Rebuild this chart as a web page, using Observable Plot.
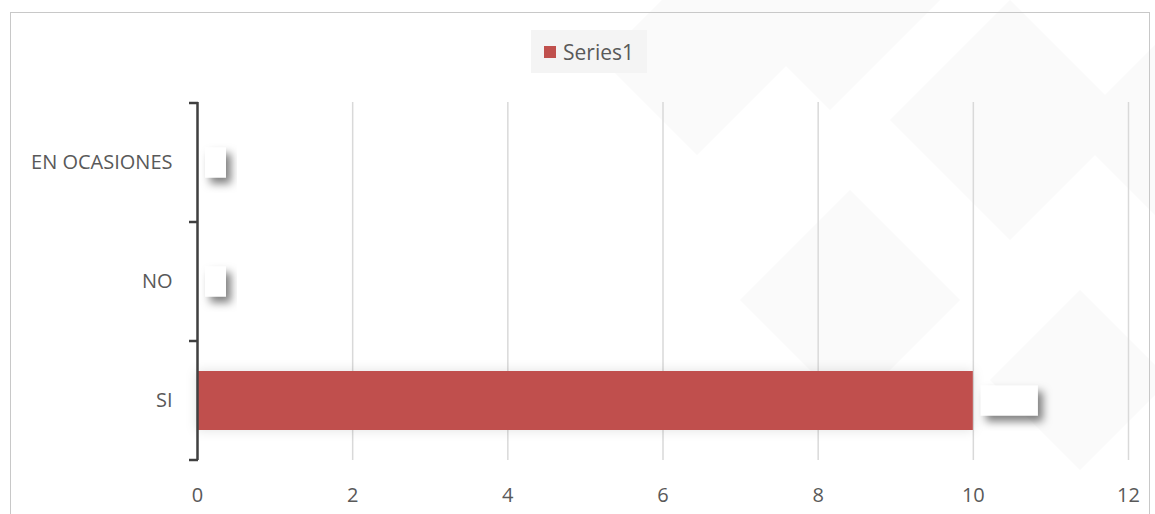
<!DOCTYPE html>
<html>
<head>
<meta charset="utf-8">
<script src="https://cdn.jsdelivr.net/npm/d3@7"></script>
<script src="https://cdn.jsdelivr.net/npm/@observablehq/plot@0.6"></script>
<style>
  html, body { margin: 0; padding: 0; background: #fff; }
  #wrap { position: relative; width: 1155px; height: 514px; overflow: hidden; font-family: "Open Sans", sans-serif; }
  #frame { position: absolute; left: 10px; top: 12px; width: 1140px; height: 520px; border: 1px solid #c8c8c8; box-sizing: border-box; }
  #bg { position: absolute; left: 0; top: 0; }
  #chart { position: absolute; left: 0; top: 0; }
  #chart svg text { font-size: 20px !important; fill: #595959; font-family: "Open Sans", sans-serif; }
  #legend { position: absolute; left: 531px; top: 30px; width: 116px; height: 43px; background: #f4f4f4; display: flex; align-items: center; justify-content: center; gap: 7px; color: #595959; font-size: 21px; }
  #legend .sw { width: 12px; height: 12px; background: #C0504D; display: inline-block; }
</style>
</head>
<body>
<div id="wrap">
  <svg id="bg" width="1155" height="514"></svg>
  <div id="frame"></div>
  <div id="chart"></div>
  <div id="legend"><span class="sw"></span><span>Series1</span></div>
</div>
<script>
const categories = ["EN OCASIONES", "NO", "SI"];
const values = [0, 0, 10];
const xTicks = [0, 2, 4, 6, 8, 10, 12];
const seriesName = "Series1";
const labelWidths = [21, 21, 57];

const data = categories.map((c, i) => ({category: c, value: values[i], series: seriesName}));

// faint background diamonds
const bg = d3.select("#bg");
const diamonds = [[697, 60, 95], [830, 0, 110], [1010, 120, 120], [1220, 130, 150], [850, 300, 110], [1080, 380, 90]];
diamonds.forEach(([cx, cy, r]) => {
  bg.append("polygon")
    .attr("points", `${cx},${cy - r} ${cx + r},${cy} ${cx},${cy + r} ${cx - r},${cy}`)
    .attr("fill", "#fafafa");
});

const plot = Plot.plot({
  width: 1155,
  height: 514,
  marginLeft: 197,
  marginRight: 27,
  marginTop: 102,
  marginBottom: 54,
  style: {background: "transparent", fontFamily: "'Open Sans', sans-serif", fontSize: "20px", color: "#595959"},
  x: {domain: [0, 12], ticks: xTicks, label: null},
  y: {domain: categories, padding: 0, label: null},
  marks: [
    Plot.gridX(xTicks, {stroke: "#d9d9d9", strokeOpacity: 1, strokeWidth: 1.5}),
    Plot.barX(data, {x: "value", y: "category", fill: "#C0504D", insetTop: 30, insetBottom: 30}),
    Plot.axisX({ticks: xTicks, tickSize: 0, tickPadding: 27, fontSize: 20, fill: "#595959"}),
    Plot.axisY({tickSize: 0, tickPadding: 25, fontSize: 20, fill: "#595959"}),
    Plot.ruleX([0], {stroke: "#404040", strokeWidth: 2.5})
  ]
});
document.getElementById("chart").appendChild(plot);

// boundary ticks and data label boxes using the plot's scales
const xs = plot.scale("x");
const ys = plot.scale("y");
const svg = d3.select(plot);
const defs = svg.append("defs");
const f = defs.append("filter").attr("id", "sh").attr("x", "-50%").attr("y", "-50%").attr("width", "200%").attr("height", "200%");
f.append("feDropShadow").attr("dx", 5).attr("dy", 6).attr("stdDeviation", 4).attr("flood-color", "#000").attr("flood-opacity", 0.5);
const fb = defs.append("filter").attr("id", "barsh").attr("x", "-10%").attr("y", "-50%").attr("width", "120%").attr("height", "200%");
fb.append("feDropShadow").attr("dx", 0).attr("dy", 0).attr("stdDeviation", 6).attr("flood-color", "#000").attr("flood-opacity", 0.12);
svg.selectAll('g[aria-label="bar"] rect').attr("filter", "url(#barsh)");

const x0 = xs.apply(0);
const bw = ys.bandwidth;
const bounds = categories.map(c => ys.apply(c)).concat([ys.apply(categories[categories.length - 1]) + bw]);
bounds.forEach(yb => {
  svg.append("line").attr("x1", x0 - 8).attr("x2", x0 + 1).attr("y1", yb).attr("y2", yb)
    .attr("stroke", "#404040").attr("stroke-width", 2.5);
});

data.forEach((d, i) => {
  const cy = ys.apply(d.category) + bw / 2;
  svg.append("rect")
    .attr("x", xs.apply(d.value) + 8)
    .attr("y", cy - 15)
    .attr("width", labelWidths[i])
    .attr("height", 30)
    .attr("fill", "#fff")
    .attr("filter", "url(#sh)");
});
</script>
</body>
</html>
